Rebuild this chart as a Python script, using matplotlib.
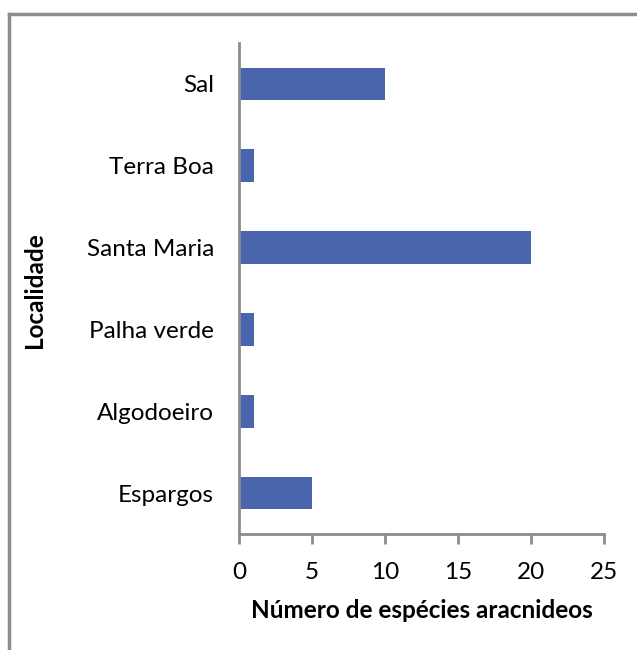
import matplotlib.pyplot as plt
from matplotlib.lines import Line2D

localidades = ["Espargos", "Algodoeiro", "Palha verde", "Santa Maria", "Terra Boa", "Sal"]
especies = [5, 1, 1, 20, 1, 10]
xticks = [0, 5, 10, 15, 20, 25]

plt.rcParams['font.family'] = ['Lato', 'DejaVu Sans']

W, H = 637, 650
fig = plt.figure(figsize=(W / 100, H / 100), dpi=100)
ax = fig.add_axes([239 / W, 1 - 534 / H, (604 - 239) / W, (534 - 43) / H])

ax.barh(range(len(localidades)), especies, height=0.4, color="#4865AD")
ax.set_ylim(-0.5, len(localidades) - 0.5)
ax.set_xlim(0, 25)
ax.set_xticks(xticks)
ax.set_yticks(range(len(localidades)))
ax.set_yticklabels(localidades)

for s in ["top", "right"]:
    ax.spines[s].set_visible(False)
for s in ["left", "bottom"]:
    ax.spines[s].set_color("#8c8c8c")
    ax.spines[s].set_linewidth(2)
ax.tick_params(axis="y", length=0, pad=18, labelsize=17.5)
ax.tick_params(axis="x", length=7, width=2, color="#8c8c8c", pad=13, labelsize=17.5)

ax.set_xlabel("Número de espécies aracnideos", fontsize=17.5, fontweight="bold", labelpad=12)
fig.text(35 / W, 1 - 290 / H, "Localidade", rotation=90, fontsize=17.5, fontweight="bold",
         ha="center", va="center")

# chart frame (only left and top edges visible in the crop)
fig.add_artist(Line2D([9 / W, 9 / W], [1 - 14 / H, 0], color="#8c8c8c", lw=2.5))
fig.add_artist(Line2D([9 / W, 1], [1 - 14 / H, 1 - 14 / H], color="#8c8c8c", lw=2.5))

fig.savefig("out.png", dpi=100)
